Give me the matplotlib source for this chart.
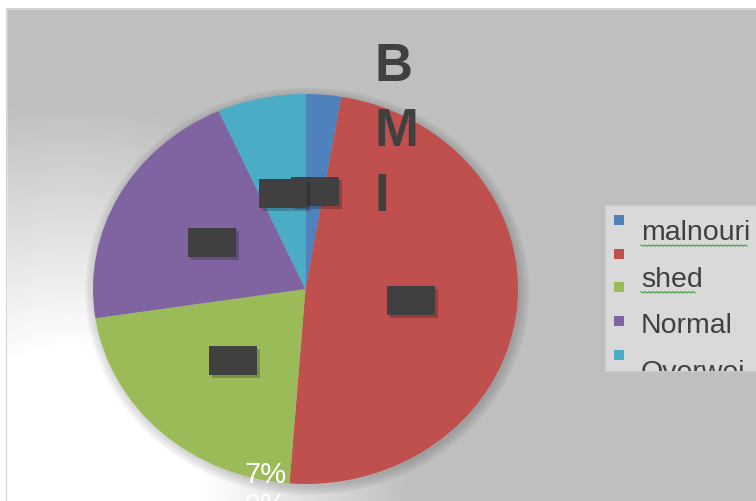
import numpy as np
import matplotlib
matplotlib.use("Agg")
import matplotlib.pyplot as plt
from matplotlib.patches import Rectangle, Circle

# BMI shares (percent, clockwise from 12 o'clock)
shares = [2.7, 48.5, 21.4, 20.7, 6.7]
colors = ['#4f81bd', '#c0504d', '#9bbb59', '#8064a2', '#4bacc6']
legend_lines = ['malnouri', 'shed', 'Normal', 'Overwei']
spell_marked = [True, True, False, False]
stray_labels = ['7%', '9%']
title = 'B\nM\nI'

W, H = 756, 502
plt.rcParams['font.family'] = ['Liberation Sans', 'DejaVu Sans']
fig = plt.figure(figsize=(W / 100, H / 100), dpi=100)
fig.patch.set_facecolor('white')


def pixel_axes(x0, y0, x1, y1):
    """axes covering a pixel box, y running downwards"""
    a = fig.add_axes([x0 / W, 1 - y1 / H, (x1 - x0) / W, (y1 - y0) / H])
    a.set_xlim(x0, x1)
    a.set_ylim(y1, y0)
    return a


# background panel
bg = pixel_axes(0, 0, W, H)
panel = Rectangle((7, 10), W, H, facecolor='#bfbfbf', edgecolor='#d2d2d2',
                  lw=1.5, zorder=0.5)
bg.add_patch(panel)

# soft white glow towards the lower left
yy, xx = np.mgrid[0:H, 0:W]
r = np.sqrt(((xx - 70) / 340.0) ** 2 + ((yy - 510) / 410.0) ** 2)
glow = np.ones((H, W, 4))
glow[..., 3] = np.clip((1.0 - r) / 0.6, 0, 1)
im = bg.imshow(glow, extent=(0, W, H, 0), interpolation='bilinear', zorder=1)
im.set_clip_path(panel)
bg.set_xlim(0, W)
bg.set_ylim(H, 0)
bg.axis('off')

# pie (slightly elliptical, like the stretched screenshot)
ax = fig.add_axes([93 / W, 1 - 485 / H, 425 / W, 390 / H])
wedges, texts = ax.pie(shares, colors=colors, startangle=90, counterclock=False,
                       labels=[''] * len(shares), labeldistance=0.5,
                       wedgeprops=dict(linewidth=0))
for k in range(5):
    ax.add_patch(Circle((0.008, -0.012), 1.0 + 0.01 * k, color='black',
                        alpha=0.03, zorder=0, clip_on=False))
ax.set_aspect('auto')
ax.set_xlim(-1, 1)
ax.set_ylim(-1, 1)
ax.axis('off')

# overlay for everything drawn above the pie
top = pixel_axes(0, 0, W, H)
top.axis('off')

# dark (empty) data label boxes at the wedge label positions
to_top = ax.transData + top.transData.inverted()
bw, bh = 48, 29
for t in texts:
    px, py = to_top.transform(t.get_position())
    top.add_patch(Rectangle((px - bw / 2 + 3, py - bh / 2 + 3), bw, bh,
                            facecolor='black', alpha=0.22, lw=0))
    top.add_patch(Rectangle((px - bw / 2, py - bh / 2), bw, bh,
                            facecolor='#404040', lw=0))

# title drawn over the pie
top.text(374, 42, title, fontsize=38, fontweight='bold', color='#404040',
         ha='left', va='top', linespacing=1.39, clip_on=False)

# stray white percentage labels at the bottom
for i, s in enumerate(stray_labels):
    top.text(266, 483 + 31 * i, s, fontsize=21, color='white', ha='center',
             va='baseline', clip_on=False)

# legend box, cut off at the right edge
leg = pixel_axes(605, 206, W, 372)
leg.set_facecolor('#d9d9d9')
leg.set_xticks([])
leg.set_yticks([])
for side, sp in leg.spines.items():
    sp.set_color('#cacaca')
    sp.set_visible(side != 'right')
for i, c in enumerate(colors):
    my = 221 + 33.7 * i
    leg.add_patch(Rectangle((614, my - 5), 10, 10, facecolor=c, lw=0))
for i, s in enumerate(legend_lines):
    base = 240 + 46.7 * i
    leg.text(641, base, s, fontsize=20.5, color='#404040', ha='left',
             va='baseline', clip_on=True)
    if spell_marked[i]:
        wx = np.arange(641, 641 + 13.2 * len(s) + 2, 2.0)
        wy = base + 6 + 1.2 * (np.arange(len(wx)) % 2)
        leg.plot(wx, wy, color='#3c9a3c', lw=0.8)

fig.savefig('out.png', dpi=100, facecolor='white')
